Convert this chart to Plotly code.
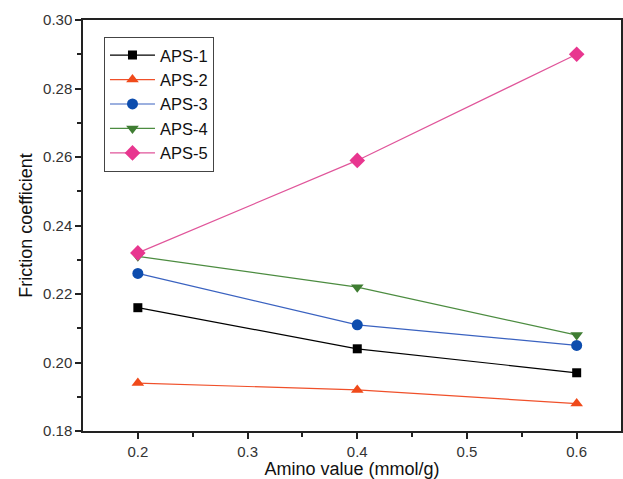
import plotly.graph_objects as go

x_vals = [0.2, 0.4, 0.6]
aps1 = [0.216, 0.204, 0.197]
aps2 = [0.194, 0.192, 0.188]
aps3 = [0.226, 0.211, 0.205]
aps4 = [0.231, 0.222, 0.208]
aps5 = [0.232, 0.259, 0.290]

series = [
    ("APS-1", aps1, "#000000", "#000000", "square", 9),
    ("APS-2", aps2, "#F0502A", "#F04A1A", "triangle-up", 11),
    ("APS-3", aps3, "#3A62C0", "#0D4DAE", "circle", 11),
    ("APS-4", aps4, "#4C8C40", "#3F7D32", "triangle-down", 11),
    ("APS-5", aps5, "#E0559A", "#E8368F", "diamond", 12),
]

fig = go.Figure()
for name, ys, lc, mc, sym, sz in series:
    fig.add_trace(go.Scatter(
        x=x_vals, y=ys, name=name, mode="lines+markers",
        line=dict(color=lc, width=1.2),
        marker=dict(color=mc, symbol=sym, size=sz, line=dict(width=0)),
    ))

font_fam = "Liberation Sans, Arial, sans-serif"
fig.update_layout(
    width=623, height=479,
    margin=dict(l=83, r=0, t=20, b=48),
    paper_bgcolor="white", plot_bgcolor="white",
    font=dict(family=font_fam, color="#222222"),
    showlegend=True,
    legend=dict(
        x=0.039, y=0.959, xanchor="left", yanchor="top",
        bordercolor="#444444", borderwidth=1, bgcolor="white",
        font=dict(size=16.5, family=font_fam, color="#111111"),
        tracegroupgap=0, itemwidth=45,
    ),
    xaxis=dict(
        range=[0.15, 0.6404], tickvals=[0.2, 0.3, 0.4, 0.5, 0.6],
        ticktext=["0.2", "0.3", "0.4", "0.5", "0.6"],
        ticks="outside", ticklen=6, tickwidth=1.5, tickcolor="#222222",
        showline=True, linecolor="#222222", linewidth=1.5, mirror=True,
        showgrid=False, zeroline=False,
        tickfont=dict(size=15, color="#333333"),
        minor=dict(ticks="outside", tickvals=[0.25, 0.35, 0.45, 0.55], ticklen=4,
                   tickwidth=1.5, tickcolor="#222222", showgrid=False),
        title=dict(text="Amino value (mmol/g)", font=dict(size=18, color="#111111"), standoff=4),
    ),
    yaxis=dict(
        range=[0.18, 0.30], tickvals=[0.18, 0.20, 0.22, 0.24, 0.26, 0.28, 0.30],
        ticktext=["0.18", "0.20", "0.22", "0.24", "0.26", "0.28", "0.30"],
        ticks="outside", ticklen=6, tickwidth=1.5, tickcolor="#222222",
        showline=True, linecolor="#222222", linewidth=1.5, mirror=True,
        showgrid=False, zeroline=False,
        tickfont=dict(size=15, color="#333333"),
        minor=dict(ticks="outside", tickvals=[0.19, 0.21, 0.23, 0.25, 0.27, 0.29], ticklen=4,
                   tickwidth=1.5, tickcolor="#222222", showgrid=False),
        title=dict(text="Friction coefficient", font=dict(size=18, color="#111111"), standoff=6),
    ),
)

fig.write_html("out.html")
